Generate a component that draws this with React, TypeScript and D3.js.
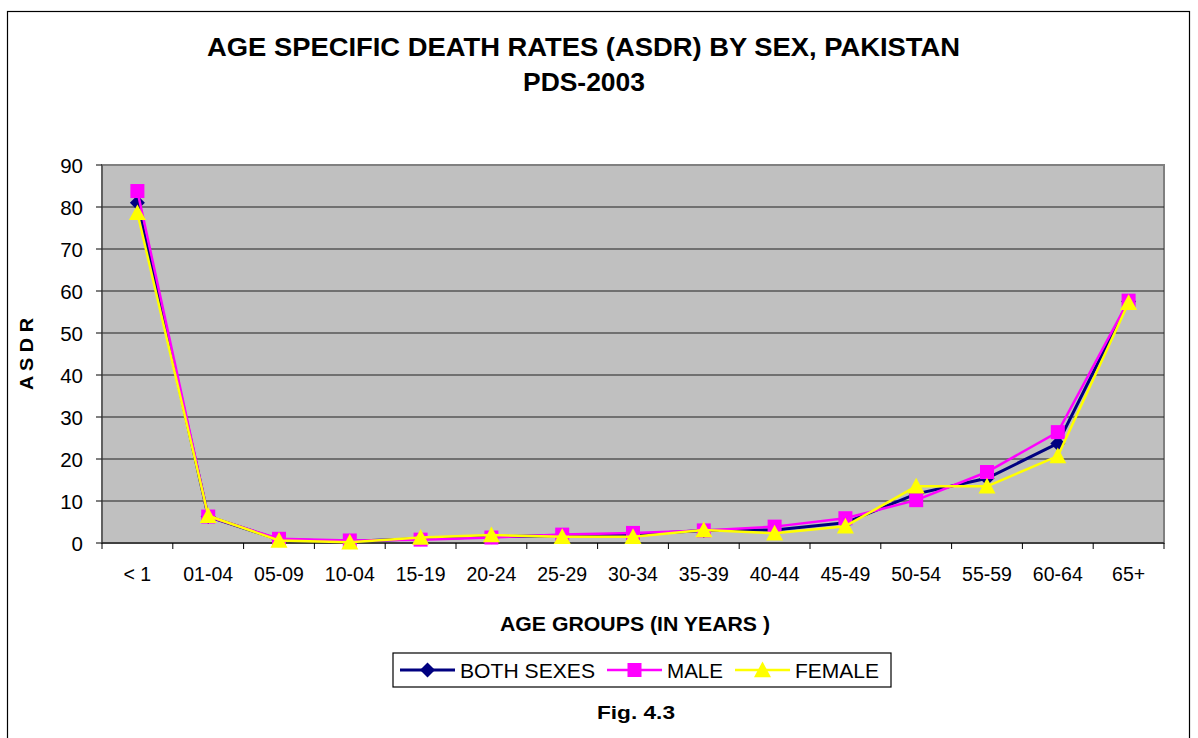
import React from "react";
import * as d3 from "d3";

const categories = ["< 1", "01-04", "05-09", "10-04", "15-19", "20-24", "25-29", "30-34", "35-39", "40-44", "45-49", "50-54", "55-59", "60-64", "65+"];
const bothSexes = [81.0, 6.3, 0.8, 0.4, 1.0, 1.5, 1.8, 2.0, 3.0, 3.1, 4.8, 11.7, 15.4, 23.7, 57.5];
const male = [83.8, 6.3, 1.0, 0.6, 0.8, 1.3, 2.0, 2.4, 3.0, 3.9, 5.9, 10.2, 16.9, 26.4, 57.7];
const female = [78.6, 6.5, 0.6, 0.2, 1.3, 1.9, 1.5, 1.5, 3.1, 2.3, 4.0, 13.5, 13.5, 20.7, 57.2];
const yTicks = [0, 10, 20, 30, 40, 50, 60, 70, 80, 90];

const W = 1198, H = 738;
const L = 102, R = 1164, T = 165, B = 543;
const FONT = "'Liberation Sans', Arial, sans-serif";

export default function App() {
  const x = d3.scaleBand<string>().domain(categories).range([L, R]).paddingInner(0).paddingOuter(0);
  const y = d3.scaleLinear().domain([0, 90]).range([B, T]);
  const cx = (c: string) => (x(c) as number) + x.bandwidth() / 2;
  const line = d3.line<number>().x((_, i) => cx(categories[i])).y((d) => y(d));

  const series = [
    { name: "BOTH SEXES", data: bothSexes, color: "#000080", width: 3, shape: "diamond" },
    { name: "MALE", data: male, color: "#FF00FF", width: 2.5, shape: "square" },
    { name: "FEMALE", data: female, color: "#FFFF00", width: 2.5, shape: "triangle" },
  ];

  const marker = (shape: string, px: number, py: number, color: string, key: string) => {
    if (shape === "diamond") {
      const s = 7.5;
      return <path key={key} d={`M${px},${py - s}L${px + s},${py}L${px},${py + s}L${px - s},${py}Z`} fill={color} />;
    }
    if (shape === "square") {
      const s = 7;
      return <rect key={key} x={px - s} y={py - s} width={2 * s} height={2 * s} fill={color} />;
    }
    const s = 8.5;
    return <path key={key} d={`M${px},${py - s}L${px + s},${py + s * 0.85}L${px - s},${py + s * 0.85}Z`} fill={color} />;
  };

  const legendItems = [
    { x: 400, label: "BOTH SEXES", tl: 135, s: series[0] },
    { x: 607, label: "MALE", tl: 56, s: series[1] },
    { x: 735, label: "FEMALE", tl: 84, s: series[2] },
  ];

  return (
    <svg width={W} height={H} style={{ position: "absolute", left: 0, top: 0, background: "#fff" }} fontFamily={FONT}>
      <rect x={7.5} y={11.5} width={1182} height={740} fill="#fff" stroke="#000" strokeWidth={1.2} />
      <text x={583.5} y={56} textAnchor="middle" fontSize={25} fontWeight="bold" textLength={753} lengthAdjust="spacingAndGlyphs">AGE SPECIFIC DEATH RATES (ASDR) BY SEX, PAKISTAN</text>
      <text x={584} y={91} textAnchor="middle" fontSize={25} fontWeight="bold" textLength={122} lengthAdjust="spacingAndGlyphs">PDS-2003</text>

      <rect x={L} y={T} width={R - L} height={B - T} fill="#C0C0C0" stroke="#808080" strokeWidth={2} />
      {yTicks.map((t) => (
        <g key={t}>
          {t > 0 && t < 90 && <line x1={L} x2={R} y1={y(t)} y2={y(t)} stroke="#202020" strokeWidth={1.2} />}
          <line x1={L - 6} x2={L} y1={y(t)} y2={y(t)} stroke="#000" strokeWidth={1} />
          <text x={L - 19} y={y(t) + 7.5} textAnchor="end" fontSize={20.5}>{t}</text>
        </g>
      ))}
      <line x1={L} x2={L} y1={T} y2={B} stroke="#404040" strokeWidth={1} />
      <line x1={L} x2={R} y1={B} y2={B} stroke="#000" strokeWidth={1.2} />
      {categories.map((c, i) => (
        <g key={c}>
          <line x1={x(c) as number} x2={x(c) as number} y1={B} y2={B + 6} stroke="#000" strokeWidth={1} />
          {i === categories.length - 1 && <line x1={R} x2={R} y1={B} y2={B + 6} stroke="#000" strokeWidth={1} />}
          <text x={cx(c)} y={581} textAnchor="middle" fontSize={19.5}>{c}</text>
        </g>
      ))}

      {series.map((s) => (
        <g key={s.name}>
          <path d={line(s.data) || ""} fill="none" stroke={s.color} strokeWidth={s.width} />
          {s.data.map((v, i) => marker(s.shape, cx(categories[i]), y(v), s.color, s.name + i))}
        </g>
      ))}

      <text transform={`translate(33,354) rotate(-90)`} textAnchor="middle" fontSize={19} fontWeight="bold" textLength={72} lengthAdjust="spacingAndGlyphs">A S D R</text>
      <text x={635} y={631} textAnchor="middle" fontSize={19.5} fontWeight="bold" textLength={270} lengthAdjust="spacingAndGlyphs">AGE GROUPS (IN YEARS )</text>

      <rect x={393} y={653} width={498} height={34} fill="#fff" stroke="#000" strokeWidth={1.2} />
      {legendItems.map((it) => (
        <g key={it.label}>
          <line x1={it.x} x2={it.x + 55} y1={670} y2={670} stroke={it.s.color} strokeWidth={it.s.width} />
          {marker(it.s.shape, it.x + 27.5, 670, it.s.color, "lg" + it.label)}
          <text x={it.x + 60} y={678} fontSize={21} textLength={it.tl} lengthAdjust="spacingAndGlyphs">{it.label}</text>
        </g>
      ))}
      <text x={636} y={719} textAnchor="middle" fontSize={18.5} fontWeight="bold" textLength={78} lengthAdjust="spacingAndGlyphs">Fig. 4.3</text>
    </svg>
  );
}
